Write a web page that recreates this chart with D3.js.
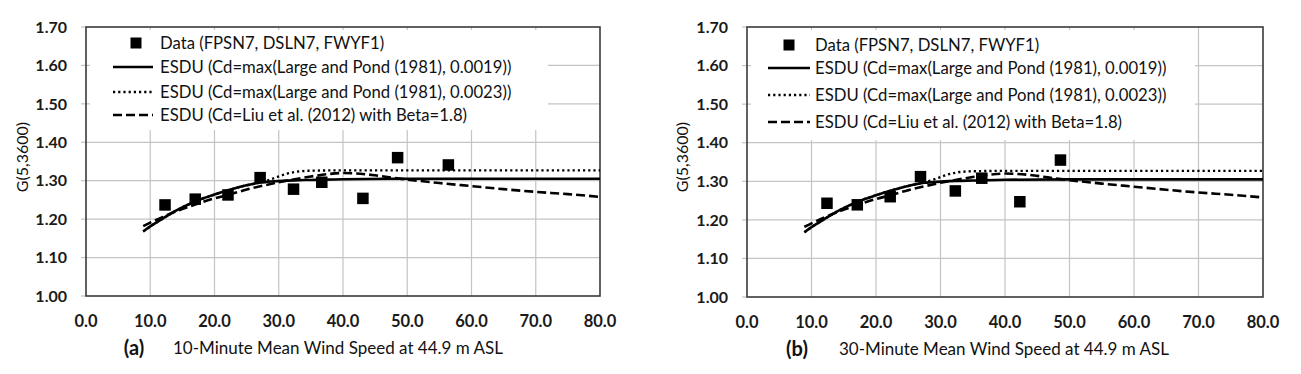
<!DOCTYPE html>
<html><head><meta charset="utf-8">
<script src="https://cdnjs.cloudflare.com/ajax/libs/d3/7.8.5/d3.min.js"></script>
<style>body{margin:0;background:#fff}svg{display:block}</style>
</head><body>
<svg id="c" width="1301" height="374"></svg>
<script>
// ---- data ----
const xTicks = [0,10,20,30,40,50,60,70,80];
const yTicks = [1.0,1.1,1.2,1.3,1.4,1.5,1.6,1.7];
const legendLabels = ["Data (FPSN7, DSLN7, FWYF1)",
  "ESDU (Cd=max(Large and Pond (1981), 0.0019))",
  "ESDU (Cd=max(Large and Pond (1981), 0.0023))",
  "ESDU (Cd=Liu et al. (2012) with Beta=1.8)"];
const panelLetters = ["(a)","(b)"];
const axisTitles = ["10-Minute Mean Wind Speed at 44.9 m ASL","30-Minute Mean Wind Speed at 44.9 m ASL"];
const yTitle = "G(5,3600)";

const dataA = [[12.3,1.237],[17.0,1.252],[22.1,1.263],[27.1,1.308],[32.3,1.278],[36.7,1.296],[43.1,1.254],[48.5,1.360],[56.4,1.341]];
const dataB = [[12.4,1.243],[17.1,1.239],[22.2,1.260],[26.9,1.312],[32.3,1.275],[36.4,1.308],[42.3,1.247],[48.6,1.355]];

const esdu19 = [[8.9,1.168],[10,1.181],[12,1.202],[14,1.222],[17,1.246],[20,1.264],[22.5,1.277],[25,1.288],[27.5,1.296],[30,1.299],[32.5,1.301],[35,1.302],[40,1.304],[50,1.305],[60,1.305],[70,1.305],[80,1.305]];
const esdu23 = [[8.9,1.168],[10,1.181],[12,1.202],[14,1.222],[17,1.246],[20,1.264],[22.5,1.277],[25,1.288],[27.5,1.297],[29,1.305],[30,1.311],[31,1.317],[32,1.321],[33,1.324],[35,1.326],[40,1.327],[50,1.327],[60,1.327],[70,1.327],[80,1.327]];
const esduLiu = [[8.9,1.182],[10,1.191],[12,1.206],[14,1.220],[17,1.238],[20,1.254],[22.5,1.265],[25,1.277],[27.5,1.287],[30,1.296],[32.5,1.304],[35,1.311],[37.5,1.317],[40,1.320],[42,1.319],[45,1.314],[48,1.307],[50,1.303],[55,1.294],[60,1.286],[65,1.278],[70,1.271],[75,1.265],[80,1.258]];

// ---- layout ----
const panels = [
  {x0:86, x1:600, y0:27, y1:296, data:dataA, legW:458, legH:100, legRow:[16,40,65,88], mark:50, lineX:[27,67], textX:74, lab:[134,338], ytx:28},
  {x0:747, x1:1263, y0:27, y1:297, data:dataB, legW:444, legH:110, legRow:[18,41,68,95], mark:42, lineX:[21,63], textX:68, lab:[797,1004], ytx:688}
];
const FONT = "Lato, 'Open Sans', sans-serif";
const svg = d3.select("#c");

panels.forEach((p,i)=>{
  const x = d3.scaleLinear().domain([0,80]).range([p.x0,p.x1]);
  const y = d3.scaleLinear().domain([1.0,1.7]).range([p.y1,p.y0]);
  const g = svg.append("g");
  // grid
  g.selectAll(".gx").data(xTicks.slice(1,-1)).join("line")
    .attr("x1",d=>x(d)).attr("x2",d=>x(d)).attr("y1",p.y0).attr("y2",p.y1)
    .attr("stroke","#c4c4c4").attr("stroke-width",1.2);
  g.selectAll(".gy").data(yTicks.slice(1,-1)).join("line")
    .attr("x1",p.x0).attr("x2",p.x1).attr("y1",d=>y(d)).attr("y2",d=>y(d))
    .attr("stroke","#c4c4c4").attr("stroke-width",1.2);
  g.selectAll(".ty").data(yTicks).join("line")
    .attr("x1",p.x0-5).attr("x2",p.x0).attr("y1",d=>y(d)).attr("y2",d=>y(d))
    .attr("stroke","#c4c4c4").attr("stroke-width",1.2);
  // legend background
  g.append("rect").attr("x",p.x0+4).attr("y",p.y0+3).attr("width",p.legW).attr("height",p.legH).attr("fill","#fff");
  // frame
  g.append("rect").attr("x",p.x0).attr("y",p.y0).attr("width",p.x1-p.x0).attr("height",p.y1-p.y0)
    .attr("fill","none").attr("stroke","#3a3a3a").attr("stroke-width",1.6);
  // tick labels
  g.selectAll(".ly").data(yTicks).join("text")
    .attr("x",p.x0-19).attr("y",d=>y(d)).attr("dy","0.36em").attr("text-anchor","end")
    .attr("font-family",FONT).attr("font-weight","bold").attr("font-size",16).attr("fill","#1a1a1a")
    .text(d=>d3.format(".2f")(d));
  g.selectAll(".lx").data(xTicks).join("text")
    .attr("x",d=>x(d)).attr("y",p.y1+31).attr("text-anchor","middle")
    .attr("font-family",FONT).attr("font-weight","bold").attr("font-size",16.5).attr("fill","#1a1a1a")
    .text(d=>d3.format(".1f")(d));
  // axis titles
  g.append("text").attr("x",p.lab[0]).attr("y",p.y1+59).attr("text-anchor","middle")
    .attr("font-family",FONT).attr("font-weight","bold").attr("font-size",20).attr("fill","#111").text(panelLetters[i]);
  g.append("text").attr("x",p.lab[1]).attr("y",p.y1+58).attr("text-anchor","middle")
    .attr("font-family",FONT).attr("font-size",17).attr("fill","#111").text(axisTitles[i]);
  g.append("text").attr("transform",`translate(${p.ytx},157) rotate(-90)`)
    .attr("text-anchor","middle").attr("font-family",FONT).attr("font-size",16).attr("fill","#111").text(yTitle);

  // lines
  const line = d3.line().x(d=>x(d[0])).y(d=>y(d[1])).curve(d3.curveMonotoneX);
  const styles = [
    {d:esdu19, dash:null, w:2.6},
    {d:esdu23, dash:"2.2,3", w:2.4},
    {d:esduLiu, dash:"9,4", w:2.6}
  ];
  styles.forEach(s=>{
    g.append("path").attr("d",line(s.d)).attr("fill","none").attr("stroke","#000")
      .attr("stroke-width",s.w).attr("stroke-dasharray",s.dash);
  });
  // data squares
  const sz = 11.5;
  g.selectAll(".pt").data(p.data).join("rect")
    .attr("x",d=>x(d[0])-sz/2).attr("y",d=>y(d[1])-sz/2).attr("width",sz).attr("height",sz).attr("fill","#000");

  // legend
  const lg = g.append("g").attr("transform",`translate(${p.x0},${p.y0})`);
  lg.append("rect").attr("x",p.mark-5.5).attr("y",p.legRow[0]-5.5).attr("width",11).attr("height",11).attr("fill","#000");
  styles.forEach((s,k)=>{
    lg.append("line").attr("x1",p.lineX[0]).attr("x2",p.lineX[1]).attr("y1",p.legRow[k+1]).attr("y2",p.legRow[k+1])
      .attr("stroke","#000").attr("stroke-width",s.w).attr("stroke-dasharray",s.dash);
  });
  legendLabels.forEach((t,k)=>{
    lg.append("text").attr("x",p.textX).attr("y",p.legRow[k]).attr("dy","0.35em")
      .attr("font-family",FONT).attr("font-size",16.7).attr("fill","#111").text(t);
  });
});
</script>
</body></html>
